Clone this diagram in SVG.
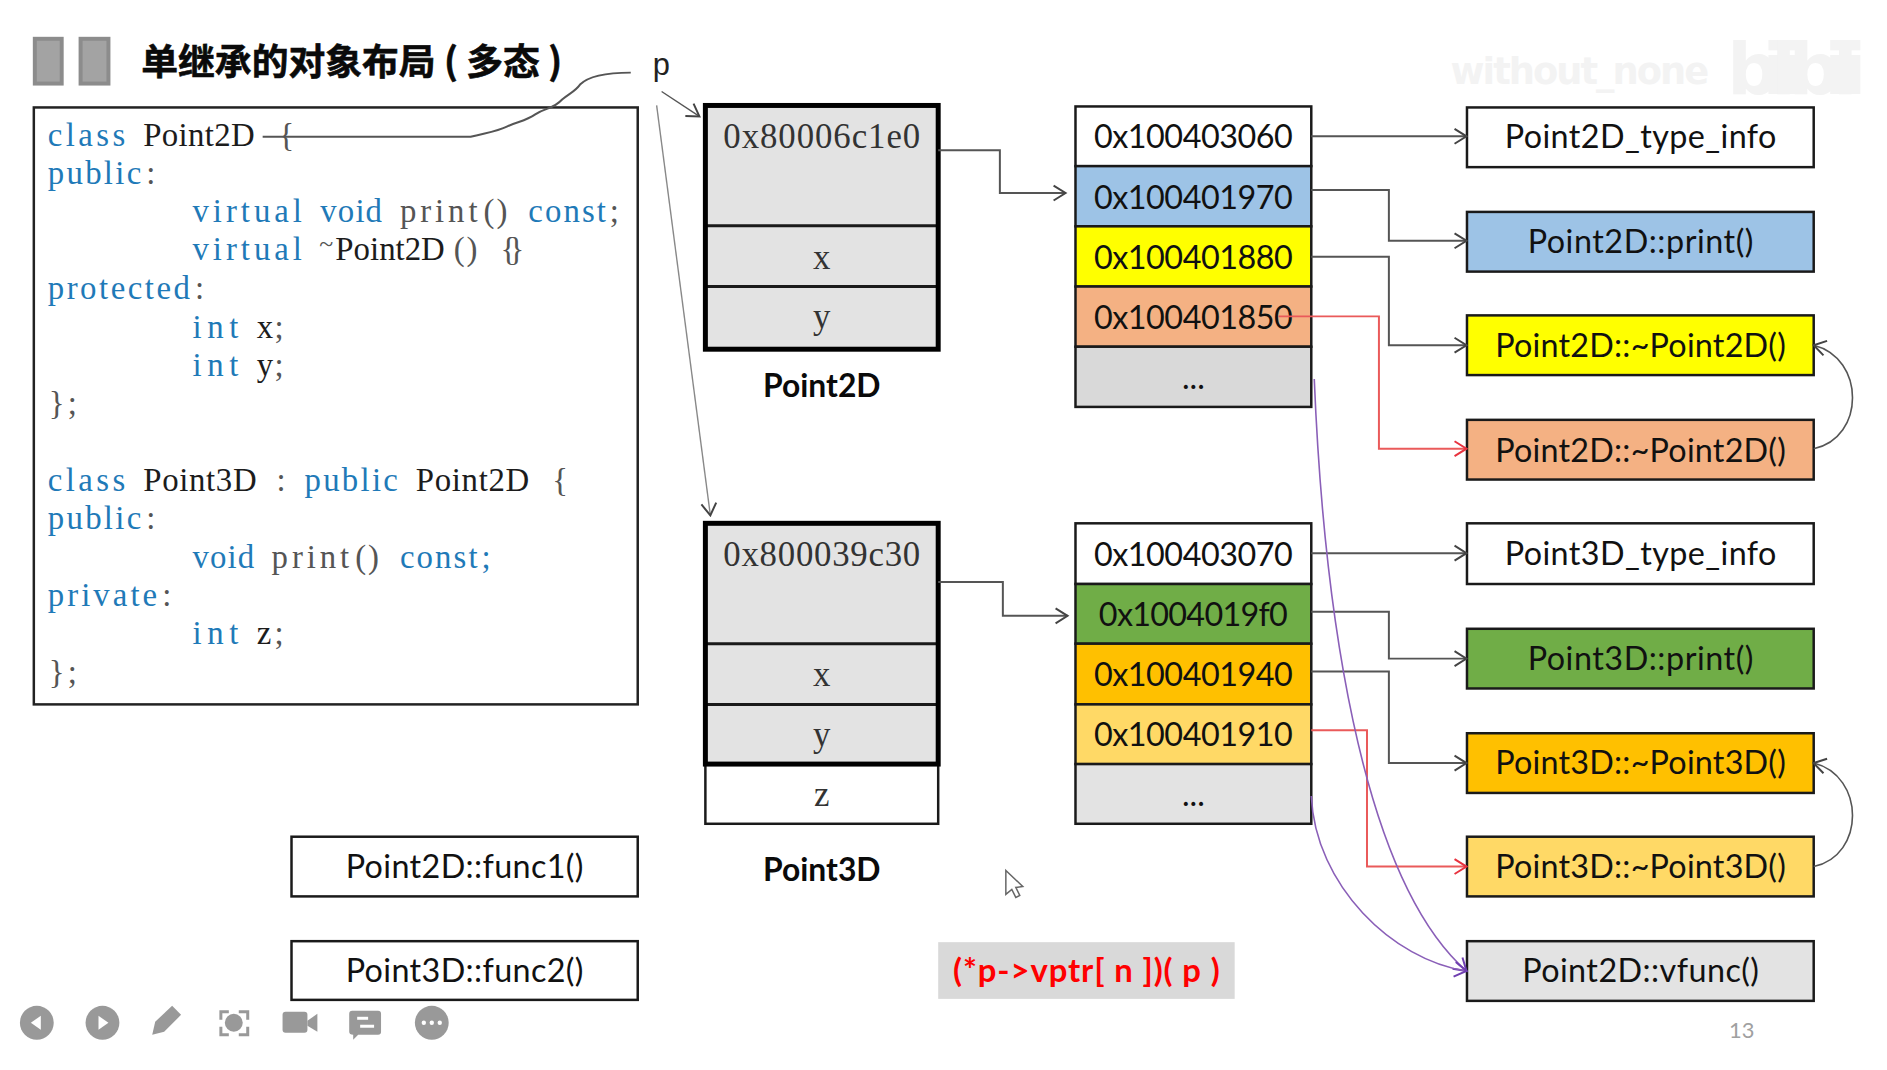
<svg xmlns="http://www.w3.org/2000/svg" width="1887" height="1070" viewBox="0 0 1887 1070">
<defs>
<style>
.c{font-family:"Liberation Serif","DejaVu Serif",serif;font-size:33px}
.k{fill:#1f7ab8}
.n{fill:#1c1c1c}
.g{fill:#555}
.t{font-size:26px}
.v{font-family:"Liberation Serif",serif;font-size:35px;fill:#333;text-anchor:middle}
.l{font-family:Lato,"Open Sans",sans-serif;font-size:32.500px;fill:#111;text-anchor:middle}
.b{font-family:Lato,"Open Sans",sans-serif;font-weight:700;font-size:32px;fill:#0a0a0a;text-anchor:middle}
.cell{stroke:#1a1a1a;stroke-width:2.500}
.th{stroke:#000;stroke-width:5;fill:none}
.div{stroke:#1a1a1a;stroke-width:3}
.con{fill:none;stroke:#555;stroke-width:2}
.red{fill:none;stroke:#ea5a5a;stroke-width:2}
.pur{fill:none;stroke:#8a5fb8;stroke-width:1.600}
.thin{fill:none;stroke:#888;stroke-width:1.400}
.ic{fill:#999}
.wm{fill:#f3f3f3;font-family:"DejaVu Sans",sans-serif;font-weight:700}
</style>
<marker id="a" markerUnits="userSpaceOnUse" viewBox="-14 -9 16 18" refX="0" refY="0" markerWidth="16" markerHeight="18" orient="auto"><path d="M-12,-7.500 L0,0 L-12,7.500" fill="none" stroke="#444" stroke-width="2"/></marker>
<marker id="ar" markerUnits="userSpaceOnUse" viewBox="-14 -9 16 18" refX="0" refY="0" markerWidth="16" markerHeight="18" orient="auto"><path d="M-12,-7.500 L0,0 L-12,7.500" fill="none" stroke="#e8333f" stroke-width="2"/></marker>
<marker id="ap" markerUnits="userSpaceOnUse" viewBox="-14 -9 16 18" refX="0" refY="0" markerWidth="16" markerHeight="18" orient="auto"><path d="M-12,-7.500 L0,0 L-12,7.500" fill="none" stroke="#6f3fb0" stroke-width="2"/></marker>
</defs>
<rect width="1887" height="1070" fill="#fff"/>
<g transform="scale(0.9949)">
<g id="watermark">
<text class="wm" x="1458" y="84" font-size="37" textLength="260">without_none</text>
<text class="wm" x="1736" y="95" font-size="72" textLength="140">bilibili</text>
</g>

<g id="title">
<rect x="35" y="39" width="27" height="45" fill="#a3a3a3" stroke="#8c8c8c" stroke-width="4"/>
<rect x="81" y="39" width="28" height="45" fill="#a3a3a3" stroke="#8c8c8c" stroke-width="4"/>
<text x="142" y="75" font-family="'Noto Sans CJK SC',sans-serif" font-weight="700" font-size="37" fill="#0a0a0a" stroke="#0a0a0a" stroke-width="0.600" xml:space="preserve">单继承的对象布局 ( 多态 )</text>
</g>

<g id="code">
<rect x="34" y="108" width="607" height="600" fill="#fff" stroke="#222" stroke-width="2.500"/>
<g transform="translate(0,2.500)">
<text class="c k" x="48" y="144" textLength="78">class</text><text class="c n" x="144" y="144" textLength="112">Point2D</text><text class="c g" x="280" y="144">{</text>
<text class="c k" x="48" y="182.600" textLength="94">public</text><text class="c g" x="147" y="182.600">:</text>
<text class="c k" x="193.500" y="221" textLength="110">virtual</text><text class="c k" x="322" y="221" textLength="62">void</text><text class="c g" x="402" y="221" textLength="78">print</text><text class="c g" x="486" y="221" textLength="24">()</text><text class="c k" x="531" y="221" textLength="78">const</text><text class="c g" x="613" y="221">;</text>
<text class="c k" x="193.500" y="259" textLength="110">virtual</text><text class="c n" x="321" y="259"><tspan class="g t" dy="-8">~</tspan><tspan dy="8" dx="2">Point2D</tspan></text><text class="c g" x="456" y="259" textLength="24">()</text><text class="c g" x="503" y="259" textLength="24">{}</text>
<text class="c k" x="48" y="298.500" textLength="143">protected</text><text class="c g" x="196" y="298.500">:</text>
<text class="c k" x="193.500" y="337" textLength="46">int</text><text class="c n" x="258" y="337">x</text><text class="c g" x="276" y="337">;</text>
<text class="c k" x="193.500" y="375.600" textLength="46">int</text><text class="c n" x="258" y="375.600">y</text><text class="c g" x="276" y="375.600">;</text>
<text class="c g" x="49" y="414">}</text><text class="c g" x="68" y="414">;</text>
</g>
<g transform="translate(0,3.500)">
<text class="c k" x="48" y="490" textLength="78">class</text><text class="c n" x="144" y="490" textLength="114">Point3D</text><text class="c g" x="278" y="490">:</text><text class="c k" x="306" y="490" textLength="94">public</text><text class="c n" x="418" y="490" textLength="114">Point2D</text><text class="c g" x="555" y="490">{</text>
<text class="c k" x="48" y="528.600" textLength="94">public</text><text class="c g" x="147" y="528.600">:</text>
<text class="c k" x="193.500" y="567" textLength="62">void</text><text class="c g" x="273" y="567" textLength="78">print</text><text class="c g" x="357" y="567" textLength="24">()</text><text class="c k" x="402" y="567" textLength="78">const</text><text class="c k" x="484" y="567">;</text>
<text class="c k" x="48" y="606" textLength="110">private</text><text class="c g" x="163" y="606">:</text>
<text class="c k" x="193.500" y="644" textLength="46">int</text><text class="c n" x="258" y="644">z</text><text class="c g" x="276" y="644">;</text>
<text class="c g" x="49" y="683">}</text><text class="c g" x="68" y="683">;</text>
</g>
</g>

<g id="p-label"><text x="656" y="75" font-family="'Liberation Sans',sans-serif" font-size="31" fill="#222">p</text></g>

<g id="obj-point2d">
<rect x="709" y="106" width="234" height="245" fill="#e3e3e3"/>
<line class="div" x1="709" y1="227" x2="943" y2="227"/><line class="div" x1="709" y1="288" x2="943" y2="288"/>
<rect class="th" x="709" y="106" width="234" height="245"/>
<text class="v" x="826" y="149" textLength="198">0x80006c1e0</text>
<text class="v" x="826" y="270">x</text>
<text class="v" x="826" y="330">y</text>
<text class="b" x="826" y="399">Point2D</text>
</g>

<g id="obj-point3d">
<rect class="cell" x="709" y="768" width="234" height="60" fill="#fff"/>
<rect x="709" y="526" width="234" height="242" fill="#e3e3e3"/>
<line class="div" x1="709" y1="647" x2="943" y2="647"/><line class="div" x1="709" y1="708" x2="943" y2="708"/>
<rect class="th" x="709" y="526" width="234" height="242"/>
<text class="v" x="826" y="569" textLength="198">0x800039c30</text>
<text class="v" x="826" y="690">x</text>
<text class="v" x="826" y="750">y</text>
<text class="v" x="826" y="810">z</text>
<text class="b" x="826" y="886">Point3D</text>
</g>

<g id="vtable-2d">
<rect class="cell" x="1081" y="107" width="237" height="60" fill="#fff"/>
<rect class="cell" x="1081" y="167" width="237" height="60.500" fill="#9dc3e6"/>
<rect class="cell" x="1081" y="227.500" width="237" height="60.500" fill="#ffff00"/>
<rect class="cell" x="1081" y="288" width="237" height="60.500" fill="#f4b183"/>
<rect class="cell" x="1081" y="348.500" width="237" height="60.500" fill="#d9d9d9"/>
<text class="l" x="1199.500" y="149" textLength="200">0x100403060</text>
<text class="l" x="1199.500" y="210" textLength="200">0x100401970</text>
<text class="l" x="1199.500" y="270" textLength="200">0x100401880</text>
<text class="l" x="1199.500" y="331" textLength="200">0x100401850</text>
<text class="l" x="1199.500" y="391">...</text>
</g>

<g id="vtable-3d">
<rect class="cell" x="1081" y="526" width="237" height="61" fill="#fff"/>
<rect class="cell" x="1081" y="587" width="237" height="60" fill="#70ad47"/>
<rect class="cell" x="1081" y="647" width="237" height="61" fill="#ffc000"/>
<rect class="cell" x="1081" y="708" width="237" height="60" fill="#ffd966"/>
<rect class="cell" x="1081" y="768" width="237" height="60" fill="#e3e3e3"/>
<text class="l" x="1199.500" y="569" textLength="200">0x100403070</text>
<text class="l" x="1199.500" y="629" textLength="190">0x1004019f0</text>
<text class="l" x="1199.500" y="690" textLength="200">0x100401940</text>
<text class="l" x="1199.500" y="750" textLength="200">0x100401910</text>
<text class="l" x="1199.500" y="810">...</text>
</g>

<g id="f-p2d-type"><rect class="cell" x="1474.500" y="108" width="348.500" height="60" fill="#fff"/><text class="l" x="1649" y="149" textLength="273">Point2D_type_info</text></g>
<g id="f-p2d-print"><rect class="cell" x="1474.500" y="213" width="348.500" height="60" fill="#9dc3e6"/><text class="l" x="1649" y="254" textLength="227">Point2D::print()</text></g>
<g id="f-p2d-dtor1"><rect class="cell" x="1474.500" y="317" width="348.500" height="60" fill="#ffff00"/><text class="l" x="1649" y="359" textLength="292">Point2D::~Point2D()</text></g>
<g id="f-p2d-dtor2"><rect class="cell" x="1474.500" y="422" width="348.500" height="60" fill="#f4b183"/><text class="l" x="1649" y="464" textLength="292">Point2D::~Point2D()</text></g>
<g id="f-p3d-type"><rect class="cell" x="1474.500" y="526" width="348.500" height="61" fill="#fff"/><text class="l" x="1649" y="568" textLength="273">Point3D_type_info</text></g>
<g id="f-p3d-print"><rect class="cell" x="1474.500" y="632" width="348.500" height="60" fill="#70ad47"/><text class="l" x="1649" y="673" textLength="227">Point3D::print()</text></g>
<g id="f-p3d-dtor1"><rect class="cell" x="1474.500" y="737" width="348.500" height="60" fill="#ffc000"/><text class="l" x="1649" y="778" textLength="292">Point3D::~Point3D()</text></g>
<g id="f-p3d-dtor2"><rect class="cell" x="1474.500" y="841" width="348.500" height="60" fill="#ffd966"/><text class="l" x="1649" y="883" textLength="292">Point3D::~Point3D()</text></g>
<g id="f-p2d-vfunc"><rect class="cell" x="1474.500" y="946" width="348.500" height="60" fill="#e3e3e3"/><text class="l" x="1649" y="987" textLength="238">Point2D::vfunc()</text></g>
<g id="f-func1"><rect class="cell" x="293" y="841" width="348" height="60" fill="#fff"/><text class="l" x="467" y="883" textLength="239">Point2D::func1()</text></g>
<g id="f-func2"><rect class="cell" x="293" y="946" width="348" height="59" fill="#fff"/><text class="l" x="467" y="987" textLength="239">Point3D::func2()</text></g>

<g id="formula"><rect x="943" y="947" width="298" height="57" fill="#d9d9d9"/><text x="1092" y="987" font-family="Lato,'Open Sans',sans-serif" font-weight="700" font-size="33" fill="#ff0000" text-anchor="middle" textLength="268">(*p-&gt;vptr[ n ])( p )</text></g>

<g id="connectors">
<path class="con" d="M264,137.500 H473 C491,133 500,132 510,127 C520,122 528,122 538,115 C548,108 556,110 565,100 C572,94 578,92 583,85 C592,76 610,73 634,73"/>
<path class="con" style="stroke-width:1.400" d="M665,92 L703,117" marker-end="url(#a)"/>
<path class="thin" d="M660,106 L714,518" marker-end="url(#a)"/>
<path class="con" d="M943,151 H1005 V194 H1071" marker-end="url(#a)"/>
<path class="con" d="M943,585 H1008 V619 H1073" marker-end="url(#a)"/>
<path class="con" d="M1318,137 H1474" marker-end="url(#a)"/>
<path class="con" d="M1318,191 H1396 V242 H1474" marker-end="url(#a)"/>
<path class="con" d="M1318,258 H1396 V347 H1474" marker-end="url(#a)"/>
<path class="red" d="M1285,318 H1386 V451 H1474" marker-end="url(#ar)"/>
<path class="con" style="stroke-width:1.600" d="M1823,451 C1875,440 1875,360 1823,347" marker-end="url(#a)"/>
<path class="con" d="M1318,556 H1474" marker-end="url(#a)"/>
<path class="con" d="M1318,615 H1396 V662 H1474" marker-end="url(#a)"/>
<path class="con" d="M1318,675 H1396 V767 H1474" marker-end="url(#a)"/>
<path class="red" d="M1318,734 H1374 V871 H1474" marker-end="url(#ar)"/>
<path class="con" style="stroke-width:1.600" d="M1823,871 C1875,860 1875,780 1823,767" marker-end="url(#a)"/>
<path class="pur" d="M1321,381 C1330,600 1365,880 1474,976" marker-end="url(#ap)"/>
<path class="pur" d="M1318,800 C1322,890 1400,965 1474,976" marker-end="url(#ap)"/>
</g>

<g id="cursor"><path d="M1011,875 L1011,899 L1017,894 L1021,902 L1025,900 L1021,892 L1028,891 Z" fill="#fff" stroke="#666" stroke-width="1.500"/></g>

<g id="toolbar">
<circle class="ic" cx="37" cy="1028" r="17"/><path d="M31,1028 L41,1021 V1035 Z" fill="#fff"/>
<circle class="ic" cx="103" cy="1028" r="17"/><path d="M109,1028 L99,1021 V1035 Z" fill="#fff"/>
<path class="ic" d="M153,1040 L156,1027 L173,1011 L182,1020 L165,1037 Z"/>
<circle class="ic" cx="235" cy="1028" r="9"/>
<path d="M222,1025 V1017 H230 M240,1017 H249 V1025 M249,1032 V1040 H240 M230,1040 H222 V1032" fill="none" stroke="#999" stroke-width="3"/>
<rect class="ic" x="284" y="1017" width="25" height="21" rx="3"/><path class="ic" d="M309,1026 L319,1019 V1037 L309,1031 Z"/>
<path class="ic" d="M354,1016 H380 Q383,1016 383,1019 V1037 Q383,1040 380,1040 H360 L355,1045 V1040 Q351,1040 351,1037 V1019 Q351,1016 354,1016 Z"/>
<rect x="359" y="1022" width="11" height="3" fill="#fff"/><rect x="362" y="1030" width="14" height="3" fill="#fff"/>
<circle class="ic" cx="434" cy="1028" r="17"/><circle cx="426" cy="1028" r="2.200" fill="#fff"/><circle cx="434" cy="1028" r="2.200" fill="#fff"/><circle cx="442" cy="1028" r="2.200" fill="#fff"/>
</g>

<g id="page"><text x="1738" y="1043" font-family="Lato,sans-serif" font-size="22" fill="#a0a0a0">13</text></g>
</g>
</svg>
